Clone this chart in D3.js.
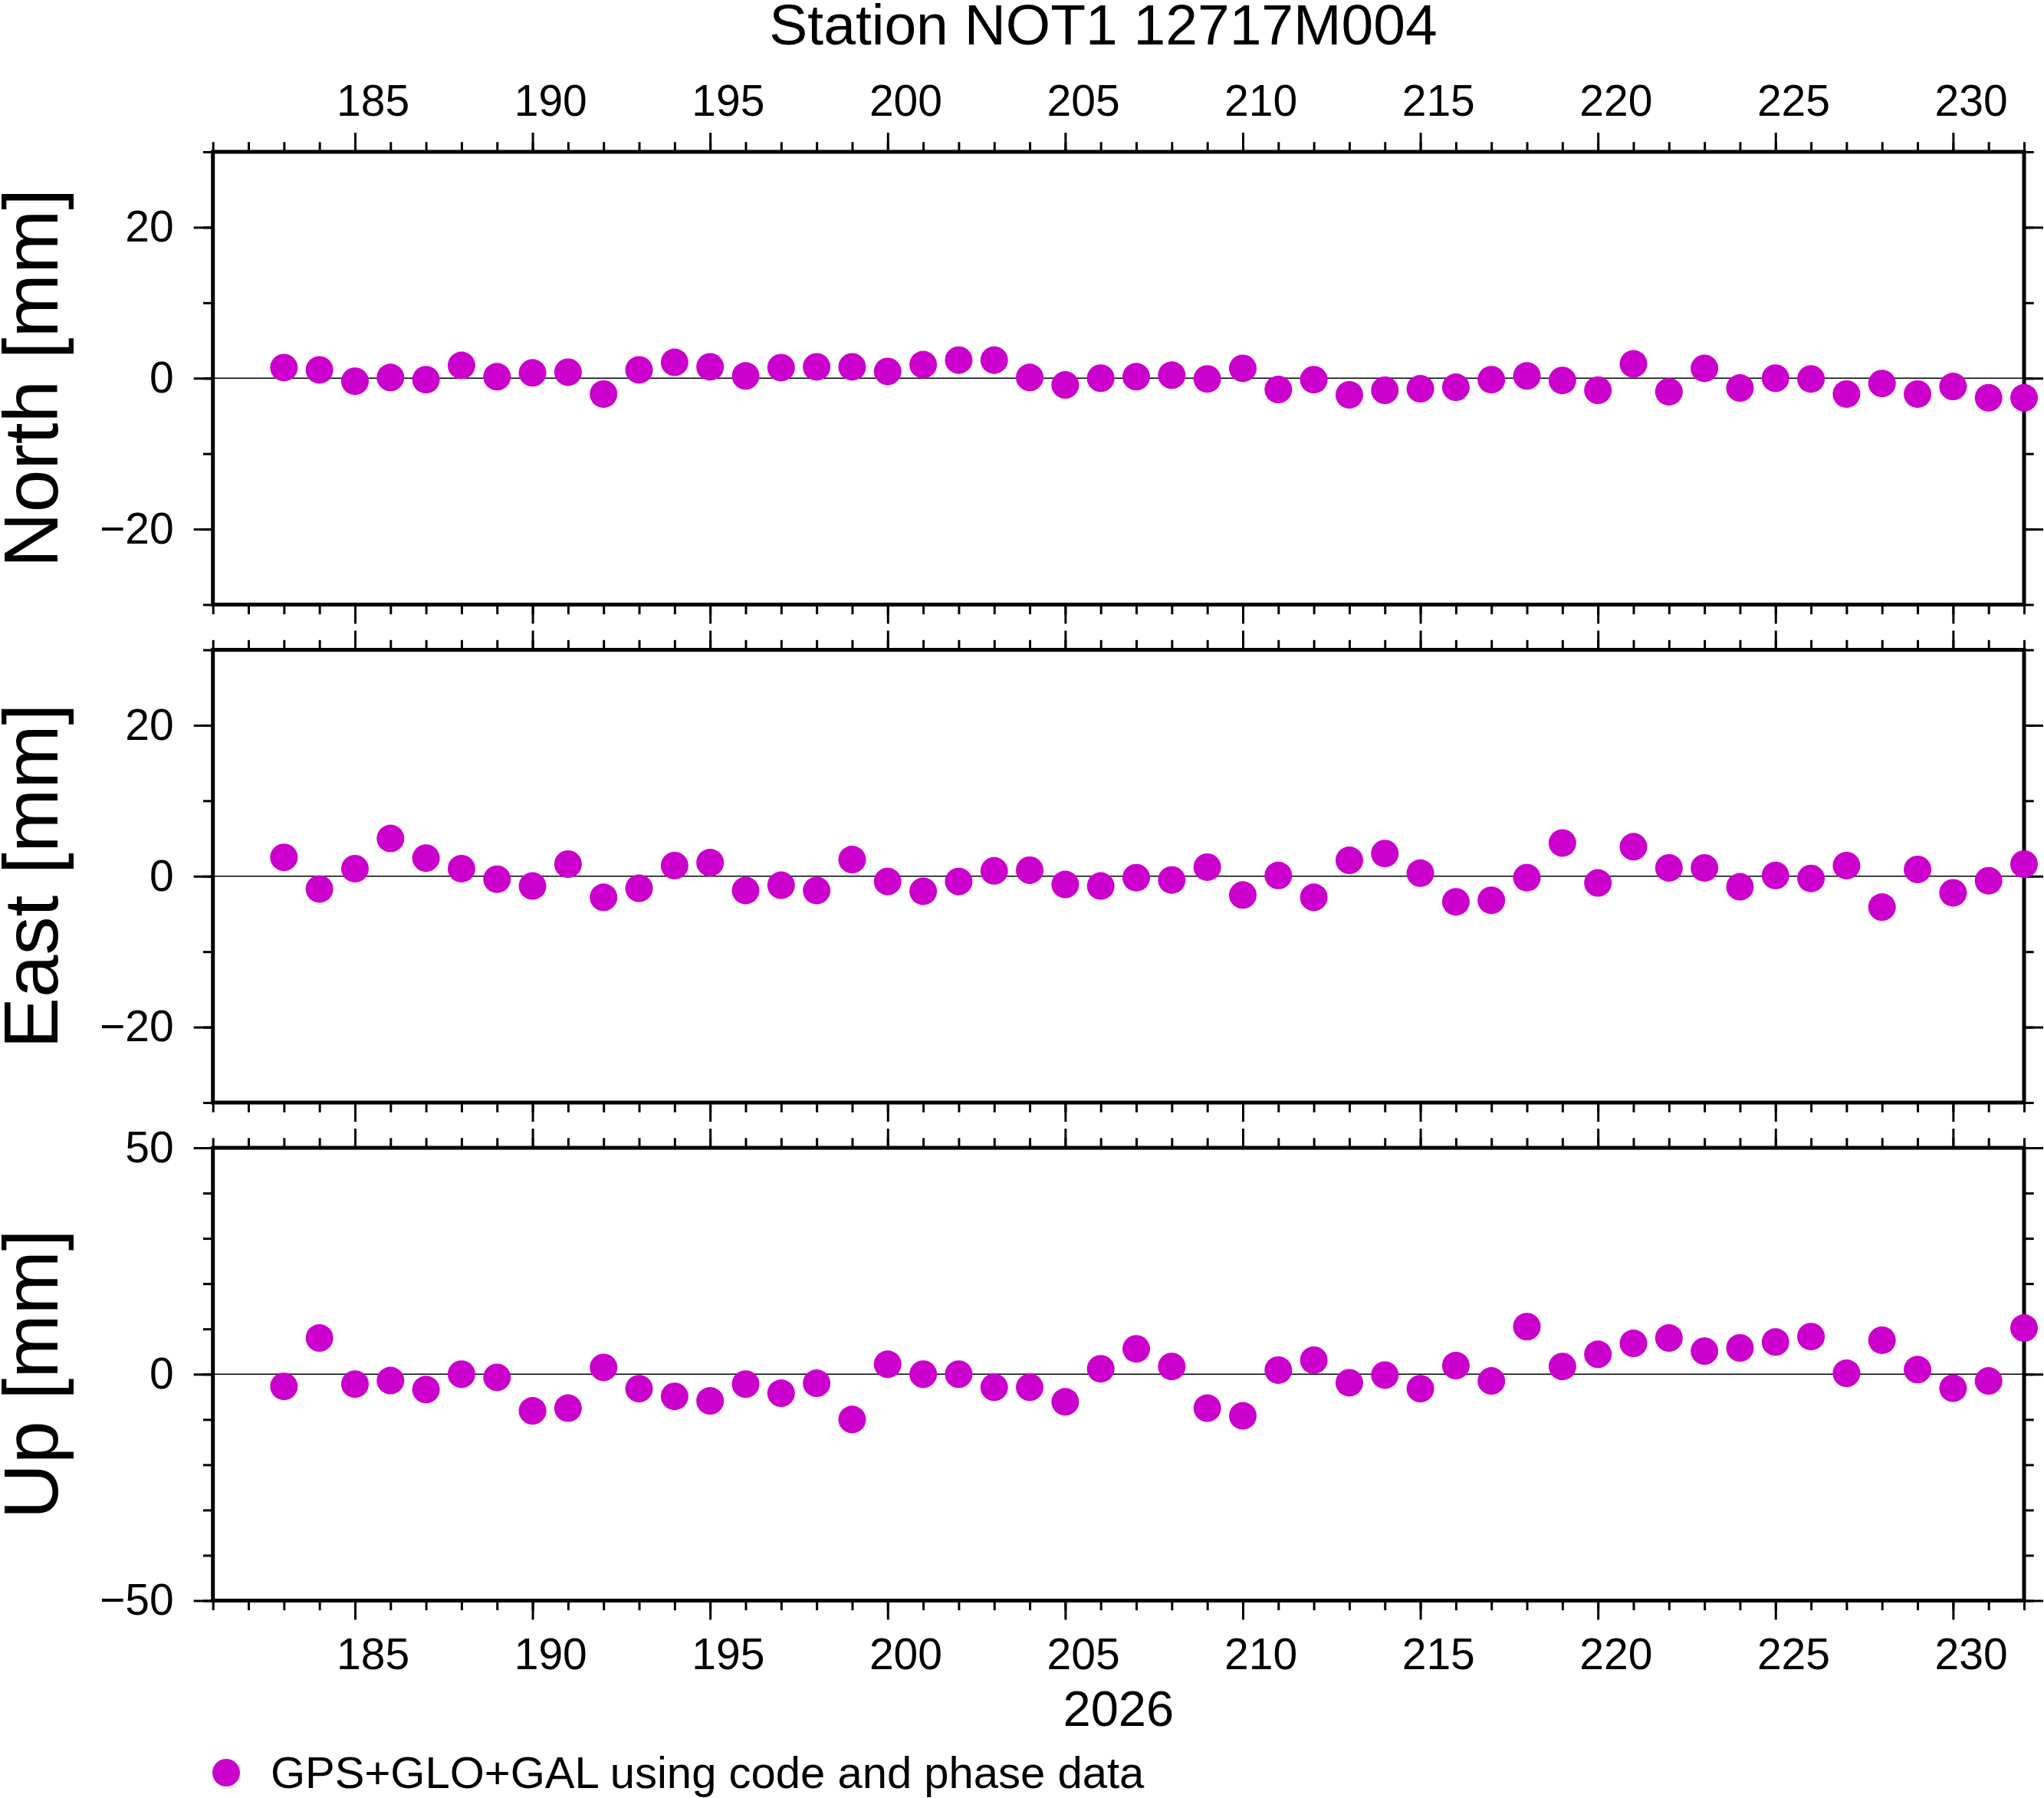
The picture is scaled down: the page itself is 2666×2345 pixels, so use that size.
<!DOCTYPE html>
<html>
<head>
<meta charset="utf-8">
<script src="https://cdn.jsdelivr.net/npm/d3@7"></script>
<style>
  body { margin: 0; background: #fff; }
  text { font-family: "Liberation Sans", Arial, Helvetica, sans-serif; }
</style>
</head>
<body>
<svg id="chart"></svg>
<script>

// day of year 2026
var days = [183, 184, 185, 186, 187, 188, 189, 190, 191, 192,
            193, 194, 195, 196, 197, 198, 199, 200, 201, 202,
            203, 204, 205, 206, 207, 208, 209, 210, 211, 212,
            213, 214, 215, 216, 217, 218, 219, 220, 221, 222,
            223, 224, 225, 226, 227, 228, 229, 230, 231, 232];

var northData = [ 1.4,  1.1, -0.4,  0.1, -0.2,  1.7,  0.2,  0.7,  0.8, -2.1,
                  1.1,  2.1,  1.5,  0.3,  1.4,  1.5,  1.5,  0.9,  1.8,  2.4,
                  2.4,  0.1, -0.9,  0.0,  0.2,  0.4, -0.1,  1.3, -1.5, -0.2,
                 -2.2, -1.6, -1.4, -1.2, -0.2,  0.3, -0.3, -1.6,  1.9, -1.8,
                  1.3, -1.3,  0.0, -0.1, -2.1, -0.7, -2.1, -1.1, -2.6, -2.6];

var eastData  = [ 2.5, -1.7,  1.0,  5.0,  2.4,  1.0, -0.4, -1.3,  1.6, -2.8,
                 -1.6,  1.4,  1.8, -1.9, -1.2, -1.9,  2.2, -0.7, -2.0, -0.7,
                  0.7,  0.8, -1.1, -1.3, -0.2, -0.5,  1.2, -2.5,  0.1, -2.8,
                  2.1,  3.0,  0.4, -3.4, -3.2, -0.2,  4.4, -0.9,  3.9,  1.1,
                  1.1, -1.4,  0.1, -0.3,  1.4, -4.1,  0.9, -2.2, -0.6,  1.6];

var upData    = [-2.7,  8.0, -2.2, -1.4, -3.4,  0.0, -0.7, -8.1, -7.5,  1.5,
                 -3.2, -4.9, -5.9, -2.2, -4.2, -2.0, -10.0, 2.2,  0.0,  0.0,
                 -2.9, -2.9, -6.1,  1.2,  5.6,  1.7, -7.5, -9.2,  0.9,  3.1,
                 -1.9, -0.2, -3.2,  1.9, -1.5, 10.5,  1.7,  4.4,  6.8,  8.0,
                  5.1,  5.8,  7.1,  8.3,  0.2,  7.5,  1.0, -3.1, -1.5, 10.2];

var dayLabels = [185, 190, 195, 200, 205, 210, 215, 220, 225, 230];
var neTicks   = [-30, -20, -10, 0, 10, 20, 30];
var neLabels  = [-20, 0, 20];
var upTicks   = [-50, -40, -30, -20, -10, 0, 10, 20, 30, 40, 50];
var upLabels  = [-50, 0, 50];

var titleText  = "Station NOT1 12717M004";
var yearText   = "2026";
var legendText = "GPS+GLO+GAL using code and phase data";
var dotColour  = "#cc00cc";

var W = 2666, H = 2345;
var plotLeft = 277.7, plotRight = 2640;
var panelH = 590.5;
var majorLen = 25, minorLen = 12.7;

var svg = d3.select("#chart").attr("width", W).attr("height", H);

var x = d3.scaleLinear().domain([181, 232]).range([plotLeft, plotRight]);

var panels = [
  { label: "North [mm]", data: northData, top: 198,    domain: [-30, 30], ticks: neTicks, major: neLabels },
  { label: "East [mm]",  data: eastData,  top: 847.5,  domain: [-30, 30], ticks: neTicks, major: neLabels },
  { label: "Up [mm]",    data: upData,    top: 1497,   domain: [-50, 50], ticks: upTicks, major: upLabels }
];

var dayTicks = d3.range(181, 233);
var dayMajor = dayLabels;

function tickAxis(g, axisFn, scale, values, size){
  g.call(axisFn(scale).tickValues(values).tickSize(size).tickFormat(""));
  g.select(".domain").remove();
  g.selectAll("line").attr("stroke", "#000").attr("stroke-width", 3);
}

function labelAxis(g, axisFn, scale, values, pad, fmt){
  g.call(axisFn(scale).tickValues(values).tickSize(0).tickPadding(pad).tickFormat(fmt));
  g.select(".domain").remove();
  g.attr("font-size", 57).attr("font-family", null);
  g.selectAll("text").attr("fill", "#000");
}

panels.forEach(function(p, idx){

  var y = d3.scaleLinear().domain(p.domain).range([p.top + panelH, p.top]);
  var bottom = p.top + panelH;

  // ticks all round the frame
  var gTop = svg.append("g").attr("transform", "translate(0," + p.top + ")");
  tickAxis(gTop.append("g"), d3.axisTop, x, dayTicks, minorLen);
  tickAxis(gTop.append("g"), d3.axisTop, x, dayMajor, majorLen);

  var gBot = svg.append("g").attr("transform", "translate(0," + bottom + ")");
  tickAxis(gBot.append("g"), d3.axisBottom, x, dayTicks, minorLen);
  tickAxis(gBot.append("g"), d3.axisBottom, x, dayMajor, majorLen);

  var gL = svg.append("g").attr("transform", "translate(" + plotLeft + ",0)");
  tickAxis(gL.append("g"), d3.axisLeft, y, p.ticks, minorLen);
  tickAxis(gL.append("g"), d3.axisLeft, y, p.major, majorLen);
  labelAxis(gL.append("g"), d3.axisLeft, y, p.major, 51, d3.format("d"));

  var gR = svg.append("g").attr("transform", "translate(" + plotRight + ",0)");
  tickAxis(gR.append("g"), d3.axisRight, y, p.ticks, minorLen);
  tickAxis(gR.append("g"), d3.axisRight, y, p.major, majorLen);

  // day labels sit in the middle of each day
  var labelVals = dayLabels.map(function(d){ return d + 0.5; });
  if (idx === 0) {
    labelAxis(gTop.append("g"), d3.axisTop, x, labelVals, 47.5, function(d){ return Math.floor(d); });
  }
  if (idx === panels.length - 1) {
    labelAxis(gBot.append("g"), d3.axisBottom, x, labelVals, 49.5, function(d){ return Math.floor(d); });
  }

  // zero line
  svg.append("line")
    .attr("x1", x(181)).attr("x2", x(232))
    .attr("y1", y(0)).attr("y2", y(0))
    .attr("stroke", "#000").attr("stroke-width", 1.3);

  // frame
  svg.append("rect")
    .attr("x", plotLeft).attr("y", p.top)
    .attr("width", plotRight - plotLeft).attr("height", panelH)
    .attr("fill", "none").attr("stroke", "#000").attr("stroke-width", 5);

  svg.append("g").selectAll("circle")
    .data(p.data)
    .enter().append("circle")
    .attr("cx", function(d, i){ return x(days[i]); })
    .attr("cy", function(d){ return y(d); })
    .attr("r", 18)
    .attr("fill", dotColour);

  svg.append("text")
    .attr("transform", "translate(75," + (p.top + panelH / 2) + ") rotate(-90)")
    .attr("text-anchor", "middle")
    .attr("font-size", 100)
    .text(p.label);
});

svg.append("text")
  .attr("x", 1439).attr("y", 58)
  .attr("text-anchor", "middle")
  .attr("font-size", 75)
  .text(titleText);

svg.append("text")
  .attr("x", (plotLeft + plotRight) / 2).attr("y", 2251)
  .attr("text-anchor", "middle")
  .attr("font-size", 65)
  .text(yearText);

// legend
svg.append("circle")
  .attr("cx", 295).attr("cy", 2312).attr("r", 18)
  .attr("fill", dotColour);

svg.append("text")
  .attr("x", 353).attr("y", 2332)
  .attr("font-size", 58)
  .text(legendText);

</script>
</body>
</html>
